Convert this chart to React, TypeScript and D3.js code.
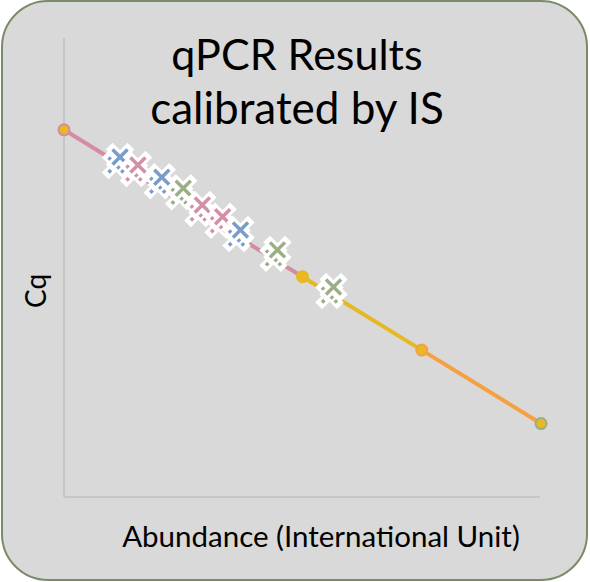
import * as d3 from "d3";

// standard curve points (log abundance vs Cq)
const stdAbundance = [0, 2, 3, 4];
const stdCq = [35, 31, 29, 27];
const stdStroke = ["#d48ca2", "#e6b824", "#f5a142", "#9cae86"];
const segColors = ["#d48ca2", "#e6b824", "#f5a142"];

// samples calibrated by internal standard
const sampleAbundance = [0.47, 0.62, 0.82, 1.0, 1.16, 1.33, 1.48, 1.79, 2.26];
const sampleCq = [34.26, 34.04, 33.71, 33.41, 32.95, 32.63, 32.27, 31.73, 30.72];
const sampleGroup = ["A", "B", "A", "C", "B", "B", "A", "C", "C"];
const groupColors: Record<string, string> = { A: "#7a9cc8", B: "#d38fa5", C: "#9cae86" };

const W = 590;
const H = 582;
const font = "Lato, 'Open Sans', sans-serif";

const x = d3.scaleLinear().domain([0, 4]).range([64, 541]);
const y = d3.scaleLinear().domain([25, 37.5]).range([497, 38]);

const Cross = ({ cx, cy, color, dashed }: { cx: number; cy: number; color: string; dashed?: boolean }) => {
    const s = 7.5;
    const d = `M${cx - s},${cy - s}L${cx + s},${cy + s}M${cx - s},${cy + s}L${cx + s},${cy - s}`;
    return (
        <g>
            <path d={d} stroke="#fff" strokeWidth={9.5} strokeLinecap="square" fill="none" />
            <path
                d={d}
                stroke={color}
                strokeWidth={3.5}
                fill="none"
                strokeDasharray={dashed ? "3.5,2.5" : undefined}
            />
        </g>
    );
};

export default function App() {
    const pts = stdAbundance.map((a, i) => [x(a), y(stdCq[i])] as [number, number]);
    return (
        <svg
            width={W}
            height={H}
            style={{ position: "absolute", left: 0, top: 0, background: "#fff" }}
        >
            <rect x={2} y={1} width={585} height={579} rx={46} ry={46} fill="#d9d9d9" stroke="#7b8a68" strokeWidth={2} />

            {/* axes */}
            <line x1={x(0)} x2={x(0)} y1={y(37.5)} y2={y(25)} stroke="#bfbfbf" strokeWidth={1.5} />
            <line x1={x(0)} x2={x(4) - 1} y1={y(25)} y2={y(25)} stroke="#bfbfbf" strokeWidth={1.5} />

            {/* standard curve */}
            {pts.slice(0, -1).map((p, i) => (
                <line
                    key={i}
                    x1={p[0]}
                    y1={p[1]}
                    x2={pts[i + 1][0]}
                    y2={pts[i + 1][1]}
                    stroke={segColors[i]}
                    strokeWidth={4}
                />
            ))}
            {pts.map((p, i) => (
                <circle key={i} cx={p[0]} cy={p[1]} r={5.5} fill="#e8b923" stroke={stdStroke[i]} strokeWidth={2} />
            ))}

            {/* samples */}
            {sampleAbundance.map((a, i) => {
                const cx = x(a);
                const cy = y(sampleCq[i]);
                const c = groupColors[sampleGroup[i]];
                return (
                    <g key={i}>
                        <Cross cx={cx - 4} cy={cy + 8} color={c} dashed />
                        <Cross cx={cx} cy={cy} color={c} />
                    </g>
                );
            })}

            <text x={297} y={70} textAnchor="middle" fontFamily={font} fontSize={43} fill="#000">
                qPCR Results
            </text>
            <text x={297} y={124} textAnchor="middle" fontFamily={font} fontSize={44} fill="#000">
                calibrated by IS
            </text>
            <text x={321} y={547} textAnchor="middle" fontFamily={font} fontSize={29.5} fill="#000">
                Abundance (International Unit)
            </text>
            <text
                transform={`translate(46,291) rotate(-90)`}
                textAnchor="middle"
                fontFamily={font}
                fontSize={28}
                fill="#000"
            >
                Cq
            </text>
        </svg>
    );
}
